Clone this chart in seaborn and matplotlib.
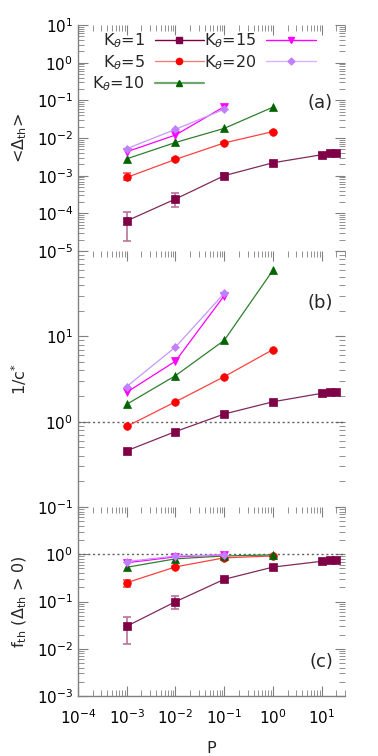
import numpy as np
import pandas as pd
import matplotlib
matplotlib.use("Agg")
import matplotlib.pyplot as plt
from matplotlib.lines import Line2D
from matplotlib.ticker import LogLocator, NullFormatter
import seaborn as sns

sns.set_style("ticks")
plt.rcParams.update({
    "font.family": ["DejaVu Sans"],
    "mathtext.fontset": "dejavusans",
    "font.size": 11,
    "xtick.direction": "in",
    "ytick.direction": "in",
    "xtick.color": "#808080",
    "ytick.color": "#808080",
    "xtick.labelcolor": "black",
    "ytick.labelcolor": "black",
    "axes.edgecolor": "#808080",
})

# ---- data ----
K_LEVELS = [1, 5, 10, 15, 20]
P_K1 = [1e-3, 1e-2, 1e-1, 1, 10, 15, 20]
P_K5 = [1e-3, 1e-2, 1e-1, 1]
P_K10 = [1e-3, 1e-2, 1e-1, 1]
P_K15 = [1e-3, 1e-2, 1e-1]
P_K20 = [1e-3, 1e-2, 1e-1]

# (a) <Delta_th>
delta_k1 = [6.3e-5, 2.4e-4, 1.0e-3, 2.2e-3, 3.6e-3, 4.1e-3, 4.0e-3]
delta_k1_lo = [1.8e-5, 1.45e-4, 8.5e-4, 2.1e-3, 3.4e-3, 3.9e-3, 3.8e-3]
delta_k1_hi = [1.1e-4, 3.4e-4, 1.2e-3, 2.4e-3, 3.9e-3, 4.3e-3, 4.2e-3]
delta_k5 = [9.0e-4, 2.7e-3, 7.4e-3, 1.48e-2]
delta_k5_lo = [7.8e-4, 2.55e-3, 7.0e-3, 1.4e-2]
delta_k5_hi = [1.15e-3, 2.9e-3, 7.8e-3, 1.55e-2]
delta_k10 = [2.8e-3, 7.6e-3, 1.8e-2, 6.6e-2]
delta_k15 = [4.3e-3, 1.2e-2, 6.8e-2]
delta_k20 = [5.2e-3, 1.7e-2, 5.8e-2]

# (b) 1/c*
invc_k1 = [0.456, 0.765, 1.23, 1.71, 2.15, 2.21, 2.21]
invc_k5 = [0.88, 1.71, 3.37, 7.0]
invc_k10 = [1.60, 3.46, 8.98, 59.6]
invc_k15 = [2.21, 5.12, 30.0]
invc_k20 = [2.58, 7.5, 31.9]

# (c) f_th
fth_k1 = [0.030, 0.099, 0.295, 0.535, 0.71, 0.74, 0.74]
fth_k1_lo = [0.0126, 0.069, 0.27, 0.51, 0.69, 0.72, 0.72]
fth_k1_hi = [0.047, 0.13, 0.32, 0.56, 0.73, 0.76, 0.76]
fth_k5 = [0.25, 0.54, 0.84, 0.92]
fth_k5_lo = [0.20, 0.51, 0.81, 0.90]
fth_k5_hi = [0.29, 0.57, 0.87, 0.94]
fth_k10 = [0.53, 0.80, 0.92, 0.97]
fth_k15 = [0.66, 0.88, 0.97]
fth_k20 = [0.70, 0.92, 0.97]

STYLE = {
    1:  dict(mc="#7f0046", lc="#7f2a5c", ec="#b8739a", marker="s", ms=5.5),
    5:  dict(mc="#ff0000", lc="#ff4040", ec="#ff5050", marker="o", ms=5.5),
    10: dict(mc="#006400", lc="#2f7f2f", ec="#5c9a5c", marker="^", ms=6),
    15: dict(mc="#ff00ff", lc="#ff00ff", ec="#ff40ff", marker="v", ms=6),
    20: dict(mc="#c080ff", lc="#c896ff", ec="#d0a8ff", marker="D", ms=4.5),
}
LEG_LINE = {1: "#7f0046", 5: "#f08080", 10: "#6fa86f", 15: "#ff00ff", 20: "#d8b4ff"}

P_BY_K = {1: P_K1, 5: P_K5, 10: P_K10, 15: P_K15, 20: P_K20}


def draw_series(ax, values):
    for k in K_LEVELS:
        st = STYLE[k]
        d = pd.DataFrame({"P": P_BY_K[k], "v": values[k]})
        sns.lineplot(data=d, x="P", y="v", ax=ax, color=st["lc"], lw=0.9,
                     marker=st["marker"], markersize=st["ms"],
                     markerfacecolor=st["mc"], markeredgecolor=st["mc"],
                     markeredgewidth=0.5, estimator=None, sort=False,
                     legend=False, zorder=3)


def draw_err(ax, p, v, lo, hi, color):
    v = np.array(v)
    yerr = [v - np.array(lo), np.array(hi) - v]
    ax.errorbar(p, v, yerr=yerr, fmt="none", ecolor=color, elinewidth=1.2,
                capsize=3, capthick=1.2, zorder=2)


def style_axes(ax, ylim, yticks, ylabels, bottom=False):
    ax.set_xscale("log")
    ax.set_yscale("log")
    ax.set_xlim(1e-4, 30)
    ax.set_ylim(*ylim)
    ax.set_yticks(yticks)
    ax.set_yticklabels(ylabels)
    ax.yaxis.set_minor_locator(LogLocator(base=10, subs=np.arange(2, 10), numticks=20))
    ax.yaxis.set_minor_formatter(NullFormatter())
    ax.xaxis.set_major_locator(LogLocator(base=10, numticks=20))
    ax.xaxis.set_minor_locator(LogLocator(base=10, subs=np.arange(2, 10), numticks=20))
    ax.xaxis.set_minor_formatter(NullFormatter())
    for s in ["top", "right"]:
        ax.spines[s].set_visible(False)
    ax.spines["left"].set_linewidth(1.0)
    ax.spines["bottom"].set_linewidth(1.0)
    if not bottom:
        ax.spines["bottom"].set_visible(False)
    ax.tick_params(axis="x", which="both", top=True, bottom=bottom,
                   labelbottom=bottom, direction="in")
    ax.tick_params(axis="y", which="both", left=True, right=True, direction="in")
    ax.tick_params(which="major", length=7, width=0.8, labelsize=11)
    ax.tick_params(which="minor", length=4, width=0.6)
    ax.set_xlabel("")
    ax.set_ylabel("")


def dec(e):
    return r"$10^{%d}$" % e


W, H = 378, 756
fig = plt.figure(figsize=(W / 100, H / 100), dpi=100)
left, width = 78 / W, 267 / W
ax_a = fig.add_axes([left, (H - 251) / H, width, 226 / H])
ax_b = fig.add_axes([left, (H - 507) / H, width, 256 / H])
ax_c = fig.add_axes([left, (H - 696) / H, width, 189 / H])
YLAB_X = -0.185

# (a)
draw_err(ax_a, P_K1, delta_k1, delta_k1_lo, delta_k1_hi, STYLE[1]["ec"])
draw_err(ax_a, P_K5, delta_k5, delta_k5_lo, delta_k5_hi, STYLE[5]["ec"])
draw_series(ax_a, {1: delta_k1, 5: delta_k5, 10: delta_k10, 15: delta_k15, 20: delta_k20})
style_axes(ax_a, (1e-5, 10), [10.0 ** e for e in range(-5, 2)],
           [dec(e) for e in range(-5, 2)])
ax_a.set_ylabel(r"<$\Delta_{\rm th}$>", fontsize=11.5)
ax_a.yaxis.set_label_coords(YLAB_X, 0.5)
ax_a.text(0.955, 0.655, "(a)", transform=ax_a.transAxes, ha="right",
          va="center", fontsize=13)

handles = []
for k in K_LEVELS:
    st = STYLE[k]
    handles.append(Line2D([], [], color=LEG_LINE[k], lw=1.6 if k == 10 else 1.0,
                          marker=st["marker"], markersize=st["ms"] - 1,
                          markerfacecolor=st["mc"], markeredgecolor=st["mc"]))
labels = [r"K$_{\theta}$=%d" % k for k in K_LEVELS]
ax_a.legend(handles, labels, ncol=2, markerfirst=False, frameon=False,
            loc="upper left", bbox_to_anchor=(0.03, 1.0), fontsize=11.5,
            handlelength=3.1, handletextpad=0.6, columnspacing=0.0,
            labelspacing=0.18, borderaxespad=0)

# (b)
ax_b.axhline(1.0, color="#606060", lw=1.0, ls=(0, (1.5, 2)), zorder=1)
draw_series(ax_b, {1: invc_k1, 5: invc_k5, 10: invc_k10, 15: invc_k15, 20: invc_k20})
style_axes(ax_b, (0.1, 100), [0.1, 1, 10, 100],
           [dec(-1), dec(0), dec(1), ""])
ax_b.set_ylabel(r"1/c$^{*}$", fontsize=11.5)
ax_b.yaxis.set_label_coords(YLAB_X, 0.5)
ax_b.text(0.955, 0.797, "(b)", transform=ax_b.transAxes, ha="right",
          va="center", fontsize=13)

# (c)
ax_c.axhline(1.0, color="#606060", lw=1.0, ls=(0, (1.5, 2)), zorder=1)
draw_err(ax_c, P_K1, fth_k1, fth_k1_lo, fth_k1_hi, STYLE[1]["ec"])
draw_err(ax_c, P_K5, fth_k5, fth_k5_lo, fth_k5_hi, STYLE[5]["ec"])
draw_series(ax_c, {1: fth_k1, 5: fth_k5, 10: fth_k10, 15: fth_k15, 20: fth_k20})
style_axes(ax_c, (1e-3, 10), [1e-3, 1e-2, 1e-1, 1, 10],
           [dec(-3), dec(-2), dec(-1), dec(0), ""], bottom=True)
ax_c.tick_params(axis="x", which="major", pad=9)
ax_c.set_ylabel(r"f$_{\rm th}$ ($\Delta_{\rm th}$ > 0)", fontsize=11.5)
ax_c.yaxis.set_label_coords(YLAB_X, 0.5)
ax_c.set_xlabel("P", fontsize=11.5, labelpad=10)
ax_c.text(0.955, 0.18, "(c)", transform=ax_c.transAxes, ha="right",
          va="center", fontsize=13)

fig.savefig("out.png", dpi=100)
